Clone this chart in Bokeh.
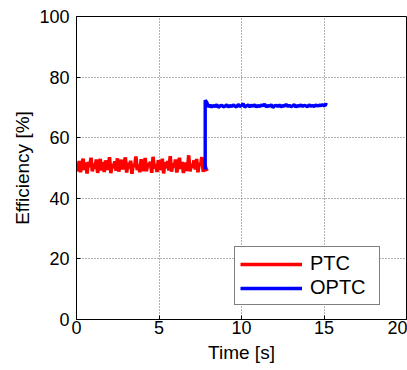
import numpy as np
from bokeh.plotting import figure
from bokeh.models import Range1d, FixedTicker, Legend, LegendItem
from bokeh.embed import file_html
from bokeh.resources import INLINE

# ---- data ----
t_ptc = np.linspace(0.0, 7.92, 100)
eff_ptc = [
    51.2, 49.0, 52.3, 48.6, 50.9, 53.1, 49.4, 51.8, 48.2, 52.0,
    50.3, 53.4, 48.9, 51.5, 49.7, 52.8, 48.4, 50.6, 53.0, 49.2,
    51.9, 48.7, 52.5, 50.1, 49.5, 53.6, 48.3, 51.3, 50.0, 52.2,
    49.1, 53.2, 48.8, 51.0, 52.7, 49.6, 50.8, 53.5, 48.5, 51.7,
    49.9, 52.4, 48.1, 51.4, 50.2, 53.8, 49.3, 51.1, 48.6, 52.9,
    50.5, 49.0, 53.3, 48.9, 51.6, 50.4, 52.1, 48.4, 53.7, 49.8,
    51.2, 48.7, 52.6, 50.7, 49.4, 53.1, 48.2, 51.9, 50.0, 52.3,
    49.2, 53.9, 48.8, 51.5, 50.3, 52.8, 48.5, 51.0, 53.4, 49.7,
    52.0, 48.3, 51.8, 50.6, 49.1, 54.2, 48.9, 51.3, 50.1, 52.5,
    49.5, 53.0, 48.6, 51.6, 50.9, 53.6, 48.7, 51.4, 49.9, 49.0,
]
t_optc = [7.8, 7.8] + list(np.linspace(7.9, 15.2, 74))
eff_optc = [49.5, 72.4] + [
    71.6, 70.2, 70.8, 70.1, 70.6, 70.3, 70.9, 70.0, 70.5, 70.7,
    70.2, 70.4, 70.9, 70.1, 70.6, 70.3, 70.8, 70.4, 70.2, 71.0,
    70.3, 70.6, 71.2, 70.1, 70.5, 70.8, 70.2, 70.7, 70.4, 70.9,
    70.1, 70.6, 70.3, 70.8, 70.5, 71.1, 70.2, 70.6, 70.4, 70.9,
    70.0, 70.5, 70.7, 70.3, 70.8, 70.2, 70.6, 70.4, 71.0, 70.3,
    70.7, 70.2, 70.5, 70.9, 70.1, 70.6, 70.4, 70.8, 70.3, 70.7,
    70.5, 70.2, 70.9, 70.4, 70.6, 70.3, 70.8, 70.5, 70.7, 70.6,
    70.9, 70.5, 71.0, 70.8,
]
x_ticks = [0, 5, 10, 15, 20]
y_ticks = [0, 20, 40, 60, 80, 100]
series_names = ["PTC", "OPTC"]

FONT = "Liberation Sans"

p = figure(width=407, height=370, output_backend="svg", toolbar_location=None,
           x_range=Range1d(0, 20), y_range=Range1d(0, 100),
           min_border_left=76, min_border_right=1, min_border_top=16, min_border_bottom=51,
           background_fill_color="white", border_fill_color="white")

p.outline_line_color = "black"
p.outline_line_width = 1
p.outline_line_alpha = 1

for ax in (p.xaxis[0], p.yaxis[0]):
    ax.axis_line_color = "black"
    ax.major_tick_line_color = "black"
    ax.major_tick_in = 4
    ax.major_tick_out = 0
    ax.minor_tick_line_color = None
    ax.major_label_text_font = FONT
    ax.major_label_text_font_size = "18px"
    ax.major_label_text_color = "black"
    ax.axis_label_text_font = FONT
    ax.axis_label_text_font_size = "19px"
    ax.axis_label_text_font_style = "normal"
    ax.axis_label_text_color = "black"

p.xaxis.ticker = FixedTicker(ticks=x_ticks)
p.yaxis.ticker = FixedTicker(ticks=y_ticks)
p.xaxis.axis_label = "Time [s]"
p.yaxis.axis_label = "Efficiency [%]"
p.xaxis.major_label_standoff = 1
p.yaxis.major_label_standoff = 7
p.xaxis.axis_label_standoff = 5
p.yaxis.axis_label_standoff = 3

p.grid.grid_line_color = "#666666"
p.grid.grid_line_dash = "1 2"
p.grid.grid_line_width = 1
p.xgrid.ticker = FixedTicker(ticks=x_ticks)
p.ygrid.ticker = FixedTicker(ticks=y_ticks)

r1 = p.line(t_ptc, eff_ptc, line_color="#ff0000", line_width=3.6)
r2 = p.line(t_optc, eff_optc, line_color="#0000ff", line_width=3.4)

legend = Legend(items=[LegendItem(label=series_names[0], renderers=[r1]),
                       LegendItem(label=series_names[1], renderers=[r2])],
                location=(158, 14))
legend.border_line_color = "black"
legend.border_line_width = 1.2
legend.background_fill_color = "white"
legend.background_fill_alpha = 1
legend.label_text_font = FONT
legend.label_text_font_size = "20px"
legend.label_text_color = "black"
legend.glyph_width = 62
legend.glyph_height = 22
legend.label_height = 22
legend.label_standoff = 8
legend.label_width = 64
legend.padding = 5
legend.spacing = 1
legend.margin = 0
p.add_layout(legend, "center")

open("out.html", "w").write(file_html(p, INLINE))
